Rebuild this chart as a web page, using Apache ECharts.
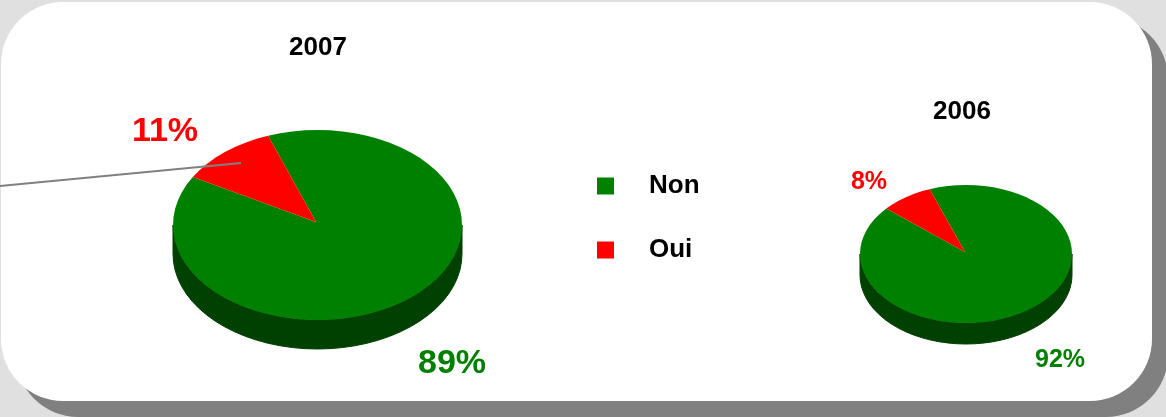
<!DOCTYPE html>
<html>
<head>
<meta charset="utf-8">
<style>
html, body { margin: 0; padding: 0; background: #e0e0e0; }
#chart { width: 1166px; height: 417px; }
</style>
<script src="https://cdn.jsdelivr.net/npm/echarts@6/dist/echarts.min.js"></script>
</head>
<body>
<div id="chart"></div>
<script>
const years = ['2007', '2006'];
const nonValues = [89, 92];
const ouiValues = [11, 8];

// placement of each tilted pie, in pixels
const pies = [
    { cx: 317.5, cy: 225, rx: 144.5, ry: 95, depth: 29, start: -20, hub: [316, 222], label: { Non: [452, 364, 34], Oui: [165, 132, 34] } },
    { cx: 966, cy: 254, rx: 106, ry: 69, depth: 21, start: -20, hub: [965, 252], label: { Non: [1060, 360, 25], Oui: [869, 182, 25] } }
];
const font = '"Liberation Sans", Arial, sans-serif';

// point on the ellipse, angle is clockwise from the top
function pt(p, deg, dy) {
    const a = deg * Math.PI / 180;
    return [p.cx + p.rx * Math.sin(a), p.cy - p.ry * Math.cos(a) + (dy || 0)];
}

function arc(p, from, to, dy) {
    const out = [];
    // coarse steps, the original outline has small facets
    for (let d = from; d < to; d += 5) out.push(pt(p, d, dy));
    out.push(pt(p, to, dy));
    return out;
}

function sliceRenderer(name, wallColor) {
    return function (params, api) {
        const i = api.value(0);
        const p = pies[i];
        const total = nonValues[i] + ouiValues[i];
        const sweep = api.value(1) / total * 360;
        const from = name === 'Non' ? p.start : p.start + nonValues[i] / total * 360;
        const to = from + sweep;
        const children = [];

        // side wall only shows on the front half (90 to 270 deg)
        [-360, 0, 360].forEach(function (shift) {
            const a = Math.max(from, 90 + shift);
            const b = Math.min(to, 270 + shift);
            if (a < b) {
                const top = arc(p, a, b, 0);
                const low = arc(p, a, b, p.depth).reverse();
                children.push({
                    type: 'polygon',
                    shape: { points: top.concat(low) },
                    style: { fill: wallColor, stroke: wallColor, lineWidth: 1 }
                });
            }
        });

        children.push({
            type: 'polygon',
            shape: { points: [p.hub].concat(arc(p, from, to, 0)) },
            style: { fill: api.visual('color') }
        });

        const lab = p.label[name];
        children.push({
            type: 'text',
            style: {
                x: lab[0], y: lab[1],
                text: api.value(1) + '%',
                fill: api.visual('color'),
                font: 'bold ' + lab[2] + 'px ' + font,
                textAlign: 'center',
                textVerticalAlign: 'middle'
            }
        });
        return { type: 'group', children: children };
    };
}

const myChart = echarts.init(document.getElementById('chart'));
myChart.setOption({
    animation: false,
    backgroundColor: '#e0e0e0',
    title: [
        { text: years[0], left: 318, top: 35, textAlign: 'center', padding: 0,
          textStyle: { color: '#000', fontSize: 26, fontWeight: 'bold', fontFamily: font } },
        { text: years[1], left: 962, top: 99, textAlign: 'center', padding: 0,
          textStyle: { color: '#000', fontSize: 26, fontWeight: 'bold', fontFamily: font } }
    ],
    legend: {
        orient: 'vertical',
        left: 597,
        top: 173,
        padding: 0,
        icon: 'rect',
        itemWidth: 17,
        itemHeight: 17,
        itemGap: 38,
        selectedMode: false,
        data: ['Non', 'Oui'],
        textStyle: {
            color: '#000',
            fontSize: 26,
            fontWeight: 'bold',
            fontFamily: font,
            padding: [0, 0, 0, 30]
        }
    },
    graphic: [
        // panel shadow and panel
        { type: 'rect', z: -2, shape: { x: 16, y: 17, width: 1152, height: 400, r: 62 }, style: { fill: '#808080' } },
        { type: 'rect', z: -1, shape: { x: 1, y: 2, width: 1151, height: 399, r: 62 }, style: { fill: '#ffffff' } },
        // leader line over the 2007 pie
        { type: 'line', z: 100, shape: { x1: 0, y1: 186, x2: 241, y2: 163 }, style: { stroke: '#808080', lineWidth: 2 } }
    ],
    series: [
        {
            name: 'Non',
            type: 'custom',
            coordinateSystem: 'none',
            itemStyle: { color: '#008000' },
            renderItem: sliceRenderer('Non', '#004000'),
            data: nonValues.map(function (v, i) { return [i, v]; })
        },
        {
            name: 'Oui',
            type: 'custom',
            coordinateSystem: 'none',
            itemStyle: { color: '#ff0000' },
            renderItem: sliceRenderer('Oui', '#800000'),
            data: ouiValues.map(function (v, i) { return [i, v]; })
        }
    ]
});
</script>
</body>
</html>
